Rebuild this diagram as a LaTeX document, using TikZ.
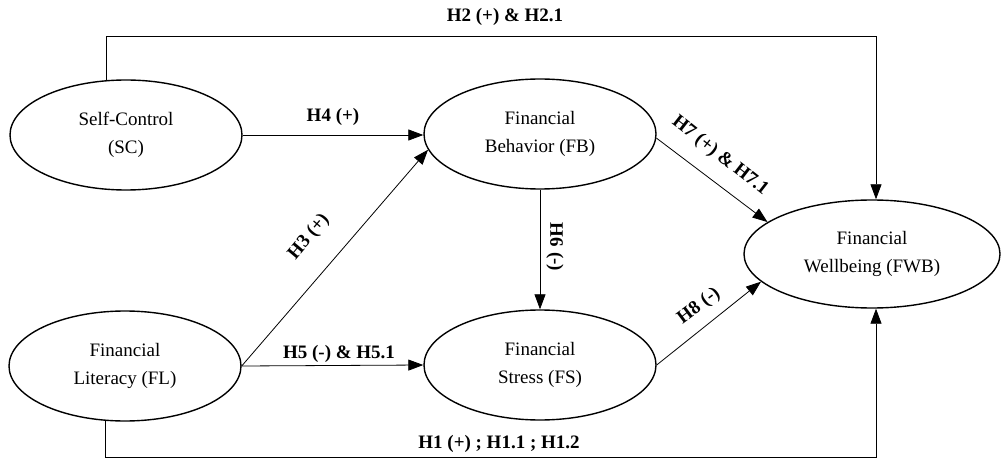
\documentclass[tikz,border=0pt]{standalone}
\usepackage{fontspec}
\setmainfont{Liberation Serif}
\usetikzlibrary{shapes.geometric,arrows.meta}
\begin{document}
\begin{tikzpicture}[x=1pt,y=-1pt,
  construct/.style={ellipse,draw,line width=1.4pt,minimum width=232pt,minimum height=110pt,
    inner sep=0pt,align=center,font=\fontsize{19}{28}\selectfont},
  link/.style={draw,line width=0.8pt,-{Triangle[length=15pt,width=11pt]}},
  hyp/.style={font=\bfseries\fontsize{19}{22}\selectfont,inner sep=1pt}]
\fill[white] (0,0) rectangle (1003,462);
\useasboundingbox (0,0) rectangle (1003,462);

\node[construct] (sc) at (126,135) {Self-Control\\(SC)};
\node[construct] (fb) at (540,134) {Financial\\Behavior (FB)};
\node[construct] (fl) at (125,366) {Financial\\Literacy (FL)};
\node[construct] (fs) at (540,365) {Financial\\Stress (FS)};
\node[construct,minimum width=256pt,minimum height=108pt] (fwb) at (872,254) {Financial\\Wellbeing (FWB)};

\coordinate (topR) at (876,36);
\coordinate (botR) at (876,457);

\draw[link] (sc.110) |- (topR) -- (topR |- fwb.north);
\draw[link] (fl.250) |- (botR) -- (botR |- fwb.south);
\draw[link] (sc.east) -- (sc.east -| fb.west);
\draw[link] (fl.east) -- (fb.188);
\draw[link] (fl.east) -- (fs.west);
\draw[link] (fb.south) -- (fs.north);
\draw[link] (fb.358) -- (fwb.163);
\draw[link] (fs.east) -- (fwb.194);

\node[hyp] (h2) at (505,17) {H2 (+) \& H2.1};
\node[hyp] (h1) at (499,444) {H1 (+) ; H1.1 ; H1.2};
\node[hyp] (h4) at (333,117) {H4 (+)};
\node[hyp] (h5) at (339,354) {H5 (-) \& H5.1};
\node[hyp,rotate=50] (h3) at (309,237) {H3 (+)};
\node[hyp,rotate=-90] (h6) at (555,247) {H6 (-)};
\node[hyp,rotate=-38] (h7) at (720,156) {H7 (+) \& H7.1};
\node[hyp,rotate=37] (h8) at (699,306) {H8 (-)};
\end{tikzpicture}
\end{document}
